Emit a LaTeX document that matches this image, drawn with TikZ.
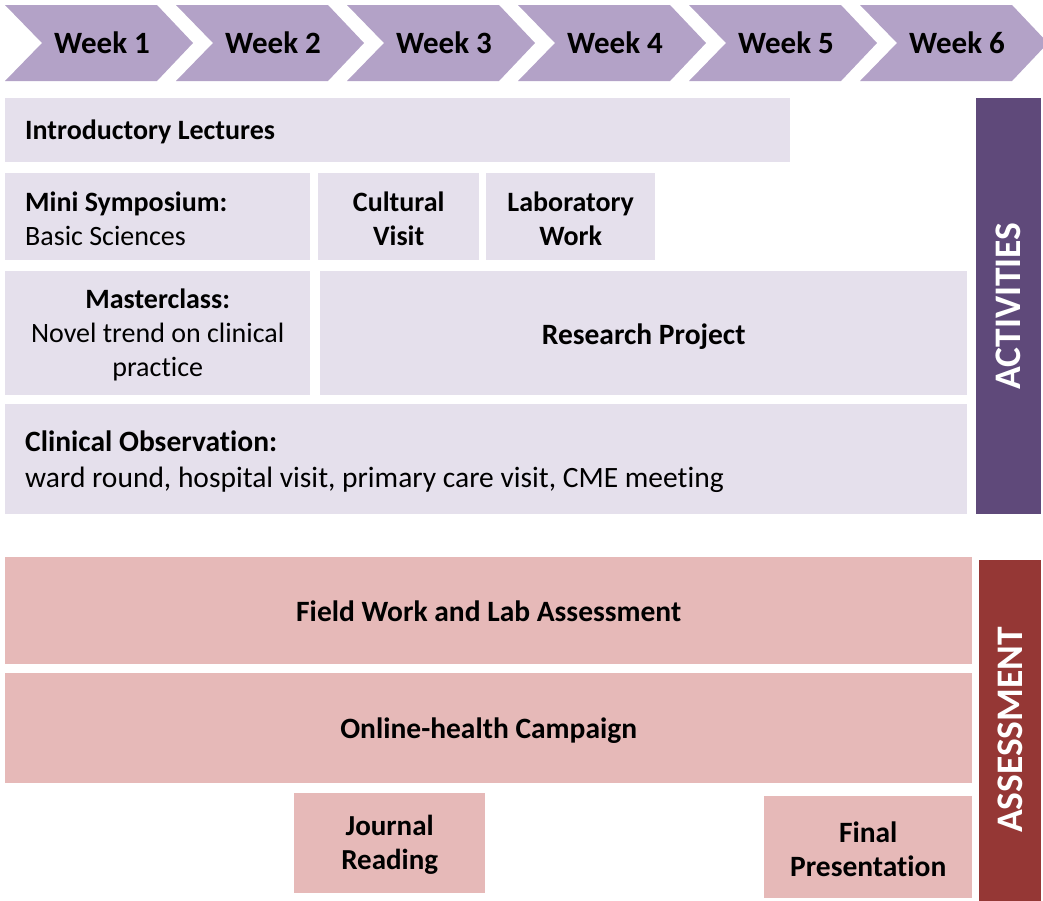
\documentclass[tikz,border=0pt]{standalone}
\usepackage{fontspec}
\setmainfont{Carlito}[Ligatures=NoCommon]
\definecolor{chev}{HTML}{B3A2C7}
\definecolor{actfill}{HTML}{E5E0EC}
\definecolor{actbar}{HTML}{5F497A}
\definecolor{asfill}{HTML}{E6B9B8}
\definecolor{asbar}{HTML}{953735}
\tikzset{
  chevron/.style={fill=chev, draw=none},
  weektext/.style={font=\fontsize{31}{36}\selectfont\bfseries, inner sep=0pt},
  abox/.style={fill=actfill, draw=none, inner sep=0pt, anchor=north west},
  sbox/.style={fill=asfill, draw=none, inner sep=0pt, anchor=north west},
  txt/.style={inner sep=0pt, font=\fontsize{28}{34}\selectfont},
  btxt/.style={inner sep=0pt, font=\fontsize{28}{34}\selectfont\bfseries, align=center},
  bigtxt/.style={inner sep=0pt, font=\fontsize{29.5}{34}\selectfont\bfseries, align=center},
  bar/.style={draw=none, rotate=90, inner sep=0pt, text=white, font=\fontsize{37.5}{40}\selectfont\bfseries},
}
\begin{document}
\begin{tikzpicture}[x=1pt,y=-1pt]
\useasboundingbox (0,0) rectangle (1043,900);
% week chevrons
\foreach \i/\x in {1/5,2/176,3/347,4/518,5/689,6/860}{
  \fill[chevron] (\x,5) -- ++(152,0) -- ++(36,38) -- ++(-36,38) -- ++(-152,0) -- ++(37,-38) -- cycle;
  \node[weektext] (w\i) at (\x+97,43) {Week \i};
}
% activities boxes
\node[abox, minimum width=785pt, minimum height=64pt] (intro) at (5,98) {};
\node[abox, minimum width=305pt, minimum height=87pt] (mini) at (5,173) {};
\node[abox, minimum width=161pt, minimum height=87pt] (cult) at (318,173) {};
\node[abox, minimum width=169pt, minimum height=87pt] (lab) at (486,173) {};
\node[abox, minimum width=305pt, minimum height=124pt] (master) at (5,271) {};
\node[abox, minimum width=647pt, minimum height=124pt] (research) at (320,271) {};
\node[abox, minimum width=962pt, minimum height=110pt] (clin) at (5,404) {};
\node[bar, fill=actbar, minimum width=416pt, minimum height=65pt] (act) at (1008.5,306) {ACTIVITIES};
% activities texts
\node[txt, anchor=west, font=\fontsize{28}{34}\selectfont\bfseries] (introT) at ([xshift=20pt,yshift=-2pt]intro.west) {Introductory Lectures};
\node[txt, anchor=west, align=left] (miniT) at ([xshift=20pt,yshift=-2pt]mini.west) {\textbf{Mini Symposium:}\\Basic Sciences};
\node[btxt] (cultT) at ([yshift=-2pt]cult.center) {Cultural\\Visit};
\node[btxt] (labT) at ([yshift=-2pt]lab.center) {Laboratory\\Work};
\node[txt, align=center] (masterT) at ([yshift=-2pt]master.center) {\textbf{Masterclass:}\\Novel trend on clinical\\practice};
\node[bigtxt] (researchT) at ([yshift=-3pt]research.center) {Research Project};
\node[txt, anchor=west, align=left, font=\fontsize{29.5}{36}\selectfont] (clinT) at ([xshift=20pt,yshift=-2pt]clin.west) {\textbf{Clinical Observation:}\\ward round, hospital visit, primary care visit, CME meeting};
% assessment boxes
\node[sbox, minimum width=967pt, minimum height=107pt] (field) at (5,557) {};
\node[sbox, minimum width=967pt, minimum height=110pt] (online) at (5,673) {};
\node[sbox, minimum width=191pt, minimum height=100pt] (journal) at (294,793) {};
\node[sbox, minimum width=208pt, minimum height=102pt] (final) at (764,796) {};
\node[bar, fill=asbar, minimum width=341pt, minimum height=62pt] (assess) at (1010,730) {ASSESSMENT};
% assessment texts
\node[bigtxt] (fieldT) at ([yshift=-1pt]field.center) {Field Work and Lab Assessment};
\node[bigtxt] (onlineT) at ([yshift=-2pt]online.center) {Online-health Campaign};
\node[bigtxt, font=\fontsize{29}{34}\selectfont\bfseries] (journalT) at ([yshift=-2pt]journal.center) {Journal\\Reading};
\node[bigtxt] (finalT) at ([yshift=-2pt]final.center) {Final\\Presentation};
\end{tikzpicture}
\end{document}
